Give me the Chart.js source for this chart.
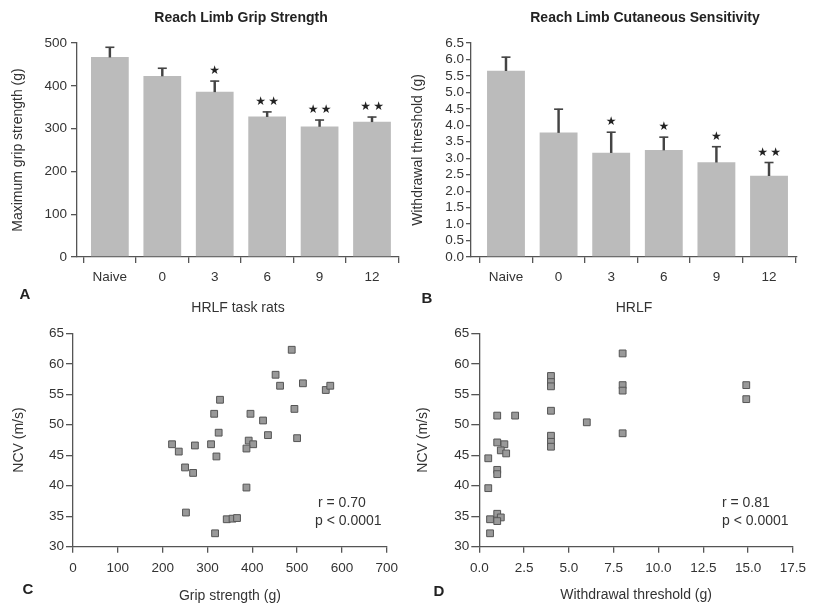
<!DOCTYPE html>
<html>
<head>
<meta charset="utf-8">
<script src="https://cdn.jsdelivr.net/npm/chart.js@4.4.0/dist/chart.umd.min.js"></script>
<style>
  html, body { margin: 0; padding: 0; background: #fff; }
  body { width: 813px; height: 605px; position: relative; overflow: hidden;
         font-family: "Liberation Sans", Arial, sans-serif; color: #333; }
  .panel { position: absolute; }
  .txt { position: absolute; white-space: nowrap; line-height: 1; }
  .title { font-weight: bold; font-size: 14px; color: #222; transform: translate(-50%, -50%); }
  .letter { font-weight: bold; font-size: 15px; color: #222; transform: translate(-50%, -50%); }
  .stat { font-size: 14px; color: #333; transform: translateY(-50%); }
</style>
</head>
<body>
<div class="panel" style="left:0;top:0;width:405px;height:320px"><canvas id="chart-a"></canvas></div>
<div class="panel" style="left:405px;top:0;width:408px;height:320px"><canvas id="chart-b"></canvas></div>
<div class="panel" style="left:0;top:305px;width:405px;height:300px"><canvas id="chart-c"></canvas></div>
<div class="panel" style="left:405px;top:305px;width:408px;height:300px"><canvas id="chart-d"></canvas></div>

<div class="txt title" style="left:241px;top:17px">Reach Limb Grip Strength</div>
<div class="txt title" style="left:645px;top:17px">Reach Limb Cutaneous Sensitivity</div>
<div class="txt letter" style="left:25px;top:293px">A</div>
<div class="txt letter" style="left:427px;top:297px">B</div>
<div class="txt letter" style="left:28px;top:588px">C</div>
<div class="txt letter" style="left:439px;top:590px">D</div>
<div class="txt stat" style="left:318px;top:502px">r = 0.70</div>
<div class="txt stat" style="left:315px;top:520px">p &lt; 0.0001</div>
<div class="txt stat" style="left:722px;top:502px">r = 0.81</div>
<div class="txt stat" style="left:722px;top:520px">p &lt; 0.0001</div>

<script>
// groups on the bar panels
const barLabels = ['Naive', '0', '3', '6', '9', '12'];

// A: reach limb grip strength (g), mean and SEM
const gripMean = [467, 423, 386, 328, 305, 316];
const gripSem = [23, 18, 25, 11, 15, 11];
const gripStars = ['', '', '*', '**', '**', '**'];

// B: reach limb withdrawal threshold (g), mean and SEM
const sensMean = [5.66, 3.78, 3.17, 3.25, 2.88, 2.47];
const sensSem = [0.41, 0.71, 0.62, 0.39, 0.47, 0.40];
const sensStars = ['', '', '*', '*', '*', '**'];

// C: grip strength vs NCV
const gripX = [488, 452, 462, 513, 564, 574, 328, 315, 396, 424, 494, 325, 435, 500, 221,
  236, 272, 308, 320, 392, 402, 387, 250, 268, 387, 252, 343, 356, 366, 317];
const ncvC = [62.3, 58.2, 56.4, 56.8, 55.7, 56.4, 54.1, 51.8, 51.8, 50.7, 52.6, 48.7, 48.3, 47.8, 46.8,
  45.6, 46.6, 46.8, 44.8, 47.4, 46.8, 46.1, 43.0, 42.1, 39.7, 35.6, 34.5, 34.6, 34.7, 32.2];

// D: withdrawal threshold vs NCV
const threshX = [8, 8, 8, 8, 4, 4, 4, 4, 4, 4, 4, 6, 2, 1, 1, 1.4, 1.2, 1.5, 0.5, 1, 1, 0.5,
  1, 1.2, 0.6, 1, 0.6, 14.9, 14.9];
const ncvD = [61.7, 56.5, 55.6, 48.6, 58.0, 57.0, 56.3, 52.3, 48.2, 47.2, 46.4, 50.4, 51.5, 51.5, 47.1,
  46.8, 45.8, 45.3, 44.5, 42.6, 41.9, 39.6, 35.4, 34.8, 34.5, 34.2, 32.2, 56.5, 54.2];

const AXIS = '#555';
const BAR = '#bbbbbb';
const ERR = '#444';

Chart.defaults.font.family = '"Liberation Sans", Arial, sans-serif';
Chart.defaults.font.size = 13.5;
Chart.defaults.color = '#333';
Chart.defaults.animation = false;
Chart.defaults.plugins.legend.display = false;
Chart.defaults.plugins.tooltip.enabled = false;

function yAxis(o) {
  return {
    min: o.min, max: o.max,
    afterFit: s => { s.width = o.width; },
    border: { color: AXIS, width: 1.3 },
    grid: { drawOnChartArea: false, tickLength: o.tick, color: AXIS, lineWidth: 1.3 },
    ticks: { stepSize: o.step, padding: o.pad, autoSkip: false,
             callback: v => o.digits ? v.toFixed(o.digits) : v },
    title: { display: true, text: o.title, font: { size: 14 }, padding: { top: o.titlePad, bottom: 0 } },
  };
}

function xAxis(o) {
  const ax = {
    type: 'linear', min: o.min, max: o.max, offset: false,
    afterFit: s => { s.height = o.height; },
    border: { color: AXIS, width: 1.3 },
    grid: { drawOnChartArea: false, tickLength: 6, color: AXIS, lineWidth: 1.3 },
    ticks: { stepSize: o.step, padding: o.pad, autoSkip: false, maxRotation: 0,
             callback: v => o.digits ? v.toFixed(o.digits) : v },
    title: { display: true, text: o.title, font: { size: 14 }, padding: { top: 0, bottom: o.titlePad } },
  };
  if (o.labels) {
    ax.afterBuildTicks = s => { s.ticks = o.labels.map((_, i) => ({ value: i })); };
    ax.ticks.callback = v => o.labels[v];
  }
  return ax;
}

function starPlugin(marks, mean, sem) {
  return {
    id: 'stars',
    afterDatasetsDraw(chart) {
      const { ctx, scales: { x, y } } = chart;
      ctx.save();
      ctx.fillStyle = '#222';
      ctx.font = '12px "DejaVu Sans"';
      ctx.textAlign = 'center';
      ctx.textBaseline = 'middle';
      marks.forEach((m, i) => {
        const cy = y.getPixelForValue(mean[i] + sem[i]) - 10;
        const cx = x.getPixelForValue(i);
        for (let k = 0; k < m.length; k++) {
          ctx.fillText('\u2605', cx + (k - (m.length - 1) / 2) * 13, cy);
        }
      });
      ctx.restore();
    },
  };
}

function barChart(id, mean, sem, marks, axes, padding) {
  return new Chart(document.getElementById(id), {
    type: 'bar',
    data: {
      datasets: [
        {
          type: 'line',
          data: mean.map((m, i) => ({ x: i, y: m + sem[i] })),
          showLine: false,
          pointStyle: 'line',
          pointRadius: 4.5,
          pointBorderWidth: 1.6,
          pointBorderColor: ERR,
        },
        {
          data: mean.map((m, i) => ({ x: i, y: [m, m + sem[i]] })),
          backgroundColor: ERR,
          barThickness: 1.8,
          grouped: false,
        },
        {
          data: mean.map((m, i) => ({ x: i, y: m })),
          backgroundColor: BAR,
          borderWidth: 0,
          categoryPercentage: 0.8,
          barPercentage: 0.9,
          grouped: false,
        },
      ],
    },
    options: {
      responsive: true,
      maintainAspectRatio: false,
      layout: { padding },
      scales: axes,
    },
    plugins: [starPlugin(marks, mean, sem)],
  });
}

function scatterChart(id, xs, ys, axes, padding) {
  return new Chart(document.getElementById(id), {
    type: 'scatter',
    data: {
      datasets: [{
        data: xs.map((v, i) => ({ x: v, y: ys[i] })),
        pointStyle: 'rect',
        pointRadius: 4.8,
        backgroundColor: '#999',
        borderColor: '#555',
        borderWidth: 1,
      }],
    },
    options: {
      responsive: true,
      maintainAspectRatio: false,
      layout: { padding },
      scales: axes,
    },
  });
}

barChart('chart-a', gripMean, gripSem, gripStars, {
  x: xAxis({ min: -0.627, max: 5.513, labels: barLabels, height: 60, pad: 6,
             title: 'HRLF task rats', titlePad: 0.6 }),
  y: yAxis({ min: 0, max: 500, step: 100, width: 77, tick: 6, pad: 4,
             title: 'Maximum grip strength (g)', titlePad: 9.6 }),
}, { left: 0, top: 43, right: 5, bottom: 3 });

barChart('chart-b', sensMean, sensSem, sensStars, {
  x: xAxis({ min: -0.665, max: 5.532, labels: barLabels, height: 60, pad: 6,
             title: 'HRLF', titlePad: 0.6 }),
  y: yAxis({ min: 0, max: 6.5, step: 0.5, digits: 1, width: 66, tick: 5, pad: 2,
             title: 'Withdrawal threshold (g)', titlePad: 4.6 }),
}, { left: 0, top: 43, right: 16, bottom: 3 });

scatterChart('chart-c', gripX, ncvC, {
  x: xAxis({ min: 0, max: 700, step: 100, height: 58.3, pad: 7,
             title: 'Grip strength (g)', titlePad: 0.6 }),
  y: yAxis({ min: 30, max: 65, step: 5, width: 73, tick: 7, pad: 2,
             title: 'NCV (m/s)', titlePad: 10.6 }),
}, { left: 0, top: 28.3, right: 14, bottom: 0 });

scatterChart('chart-d', threshX, ncvD, {
  x: xAxis({ min: 0, max: 17.5, step: 2.5, digits: 1, height: 58.3, pad: 7,
             title: 'Withdrawal threshold (g)', titlePad: 1.6 }),
  y: yAxis({ min: 30, max: 65, step: 5, width: 74.3, tick: 8, pad: 2,
             title: 'NCV (m/s)', titlePad: 9.6 }),
}, { left: 0, top: 28.3, right: 18.7, bottom: 0 });
</script>
</body>
</html>
